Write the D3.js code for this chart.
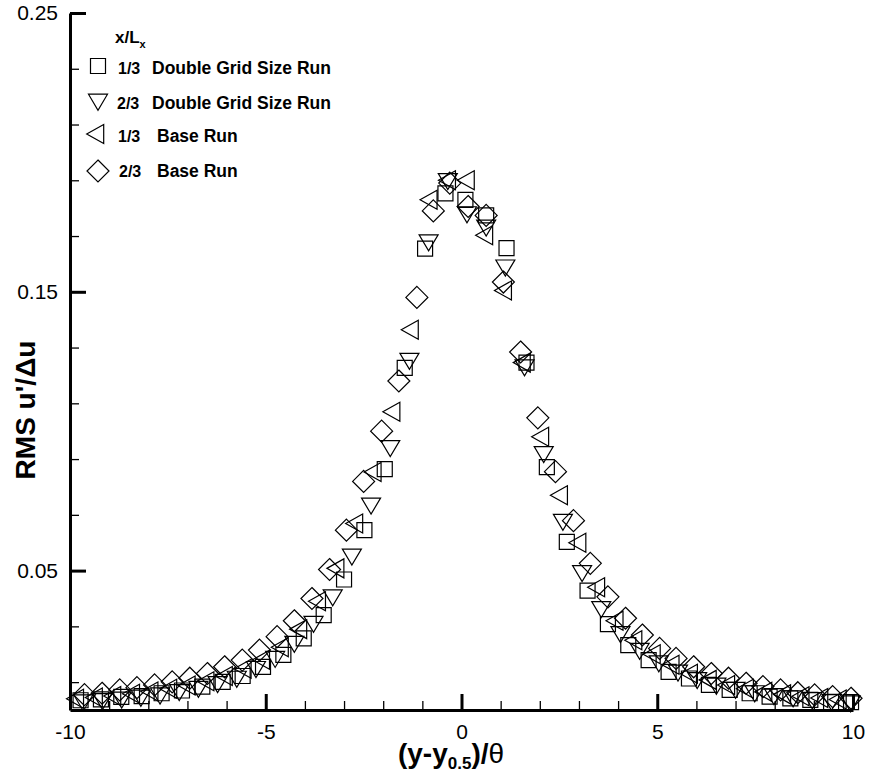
<!DOCTYPE html>
<html>
<head>
<meta charset="utf-8">
<script src="https://cdn.jsdelivr.net/npm/d3@7"></script>
<style>
  body { margin: 0; background: #fff; }
  svg text { font-family: "Liberation Sans", Arial, Helvetica, sans-serif; }
</style>
</head>
<body>
<div id="main"></div>
<script>
'use strict'

// series 1: x/Lx = 1/3, double grid size run (squares)
let sqX = [-9.73,-9.21,-8.69,-8.17,-7.66,-7.14,-6.62,-6.10,-5.59,-5.07,-4.55,-4.03,-3.52,-3.00,-2.48,-1.96,-1.45,-0.93,-0.41,0.10,0.63,1.15,1.66,2.18,2.69,3.22,3.74,4.26,4.78,5.29,5.81,6.32,6.85,7.36,7.87,8.40,8.91,9.44,9.95];
let sqY = [0.0035,0.0038,0.0047,0.0050,0.0060,0.0070,0.0084,0.0101,0.0122,0.0155,0.0198,0.0257,0.0340,0.0468,0.0645,0.0864,0.1227,0.1655,0.1853,0.1830,0.1774,0.1657,0.1246,0.0871,0.0603,0.0428,0.0308,0.0233,0.0179,0.0137,0.0113,0.0090,0.0072,0.0060,0.0048,0.0042,0.0036,0.0028,0.0028];

// series 2: x/Lx = 2/3, double grid size run (down triangles)
let dtX = [-9.66,-9.17,-8.68,-8.19,-7.70,-7.21,-6.72,-6.23,-5.74,-5.25,-4.76,-4.27,-3.78,-3.29,-2.80,-2.31,-1.82,-1.33,-0.84,-0.35,0.14,0.63,1.12,1.61,2.10,2.59,3.08,3.57,4.06,4.55,5.04,5.53,6.02,6.51,7.00,7.49,7.98,8.47,8.96,9.45,9.94];
let dtY = [0.0035,0.0040,0.0045,0.0052,0.0060,0.0072,0.0084,0.0101,0.0120,0.0155,0.0191,0.0245,0.0317,0.0412,0.0558,0.0741,0.0947,0.1260,0.1685,0.1905,0.1786,0.1738,0.1595,0.1237,0.0926,0.0683,0.0499,0.0370,0.0280,0.0220,0.0175,0.0142,0.0115,0.0095,0.0080,0.0068,0.0058,0.0050,0.0043,0.0037,0.0032];

// series 3: x/Lx = 1/3, base run (left triangles)
let ltX = [-9.80,-9.32,-8.85,-8.37,-7.90,-7.42,-6.95,-6.47,-6.00,-5.52,-5.05,-4.57,-4.10,-3.62,-3.15,-2.67,-2.20,-1.72,-1.25,-0.77,-0.30,0.18,0.65,1.13,1.61,2.08,2.56,3.03,3.51,3.98,4.46,4.93,5.41,5.88,6.36,6.83,7.31,7.78,8.26,8.73,9.21,9.68];
let ltY = [0.0040,0.0045,0.0050,0.0058,0.0066,0.0076,0.0088,0.0103,0.0122,0.0148,0.0180,0.0225,0.0290,0.0390,0.0508,0.0669,0.0854,0.1070,0.1364,0.1830,0.1900,0.1900,0.1703,0.1505,0.1246,0.0980,0.0770,0.0600,0.0440,0.0320,0.0250,0.0200,0.0162,0.0130,0.0108,0.0090,0.0076,0.0065,0.0056,0.0049,0.0043,0.0038];

// series 4: x/Lx = 2/3, base run (diamonds)
let dmX = [-9.63,-9.18,-8.73,-8.29,-7.84,-7.39,-6.94,-6.49,-6.05,-5.60,-5.16,-4.71,-4.27,-3.82,-3.37,-2.94,-2.50,-2.04,-1.60,-1.14,-0.72,-0.30,0.17,0.63,1.07,1.51,1.95,2.40,2.86,3.29,3.74,4.19,4.62,5.06,5.48,5.93,6.38,6.82,7.27,7.70,8.15,8.59,9.02,9.48,9.95];
let dmY = [0.0055,0.0060,0.0072,0.0080,0.0090,0.0101,0.0114,0.0131,0.0155,0.0179,0.0215,0.0263,0.0320,0.0400,0.0504,0.0645,0.0820,0.1000,0.1180,0.1480,0.1790,0.1890,0.1806,0.1774,0.1535,0.1284,0.1048,0.0855,0.0679,0.0526,0.0406,0.0329,0.0269,0.0221,0.0185,0.0155,0.0131,0.0114,0.0096,0.0084,0.0072,0.0062,0.0054,0.0048,0.0042];

let xMajor = [-10, -5, 0, 5, 10];
let xMinor = [-9,-8,-7,-6,-4,-3,-2,-1,1,2,3,4,6,7,8,9];
let yMajor = [0.05, 0.15, 0.25];
let yMinor = [0.01,0.03,0.07,0.09,0.11,0.13,0.17,0.19,0.21,0.23];

let legendFrac = ["1/3", "2/3", "1/3", "2/3"];
let legendName = ["Double Grid Size Run", "Double Grid Size Run", "Base Run", "Base Run"];

// marker shapes (hollow, centred on the data point)
let shapes = {
  square: "M-7.5,-7.5h15v15h-15Z",
  down: "M-9.5,-5.3L9.5,-5.3L0,10.7Z",
  left: "M-11.3,0L5.7,-9.5L5.7,9.5Z",
  diamond: "M0,-11L11,0L0,11L-11,0Z"
};

let series = [
  {x: sqX, y: sqY, shape: "square"},
  {x: dtX, y: dtY, shape: "down"},
  {x: ltX, y: ltY, shape: "left"},
  {x: dmX, y: dmY, shape: "diamond"}
];

let svgWidth = 870;
let svgHeight = 775;

let svg = d3.select('#main')
  .append('svg')
  .attr('width', svgWidth)
  .attr('height', svgHeight);

let xScale = d3.scaleLinear().domain([-10, 10]).range([70, 853]);
let yScale = d3.scaleLinear().domain([0, 0.25]).range([710, 13]);

//Draw the points
series.forEach(s => {
  svg.append("g")
    .selectAll("path")
    .data(s.x.map((v, i) => [v, s.y[i]]))
    .enter()
    .append("path")
    .attr("d", shapes[s.shape])
    .attr("transform", d => "translate(" + xScale(d[0]) + "," + yScale(d[1]) + ")")
    .attr("fill", "none")
    .attr("stroke", "#000")
    .attr("stroke-width", 1.2);
});

//Minor ticks
svg.append("g")
  .attr("transform", "translate(0,710)")
  .call(d3.axisBottom(xScale).tickValues(xMinor).tickSize(-9).tickFormat(""))
  .call(g => g.select(".domain").remove())
  .call(g => g.selectAll("line").attr("stroke-width", 1.3));

svg.append("g")
  .attr("transform", "translate(70,0)")
  .call(d3.axisLeft(yScale).tickValues(yMinor).tickSize(-9).tickFormat(""))
  .call(g => g.select(".domain").remove())
  .call(g => g.selectAll("line").attr("stroke-width", 1.3));

//Major ticks with labels (plain hyphen for minus, as in the original)
svg.append("g")
  .attr("transform", "translate(0,710)")
  .call(d3.axisBottom(xScale).tickValues(xMajor).tickSize(-16).tickSizeOuter(0).tickPadding(9).tickFormat(d => String(d)))
  .call(g => g.select(".domain").attr("stroke-width", 3))
  .call(g => g.selectAll("line").attr("stroke-width", 3))
  .call(g => g.selectAll("text").attr("font-size", "21px").attr("fill", "#000").attr("dy", "0.95em"));

svg.append("g")
  .attr("transform", "translate(70,0)")
  .call(d3.axisLeft(yScale).tickValues(yMajor).tickSize(-16).tickSizeOuter(0).tickPadding(12).tickFormat(d3.format(".2f")))
  .call(g => g.select(".domain").attr("stroke-width", 3))
  .call(g => g.selectAll("line").attr("stroke-width", 3))
  .call(g => g.selectAll("text").attr("font-size", "21px").attr("fill", "#000"));

//Axis titles
let xt = svg.append("text")
  .attr("x", 451)
  .attr("y", 763)
  .attr("text-anchor", "middle")
  .attr("font-size", "28px")
  .attr("font-weight", "bold");
xt.append("tspan").text("(y-y");
xt.append("tspan").attr("font-size", "17px").attr("dy", "6").text("0.5");
xt.append("tspan").attr("dy", "-6").text(")/");
xt.append("tspan").attr("font-weight", "normal").text("θ");

svg.append("text")
  .attr("transform", "translate(35,410) rotate(-90)")
  .attr("text-anchor", "middle")
  .attr("font-size", "28px")
  .attr("font-weight", "bold")
  .text("RMS u'/Δu");

//Legend
let lt = svg.append("text")
  .attr("x", 115)
  .attr("y", 43)
  .attr("font-size", "17px")
  .attr("font-weight", "bold");
lt.append("tspan").text("x/L");
lt.append("tspan").attr("font-size", "11px").attr("dy", "5").text("x");

let legendTextY = [74, 109, 142, 177];
let legendFracX = [118, 117, 118, 119];
let legendNameX = [152, 152, 157, 157];
let legendSymY = [66, 99.5, 134, 171];

series.forEach((s, i) => {
  svg.append("path")
    .attr("d", shapes[s.shape])
    .attr("transform", "translate(98," + legendSymY[i] + ")")
    .attr("fill", "none")
    .attr("stroke", "#000")
    .attr("stroke-width", 1.2);
  svg.append("text")
    .attr("x", legendFracX[i])
    .attr("y", legendTextY[i])
    .attr("font-size", "16px")
    .attr("font-weight", "bold")
    .text(legendFrac[i]);
  svg.append("text")
    .attr("x", legendNameX[i])
    .attr("y", legendTextY[i])
    .attr("font-size", "17.5px")
    .attr("font-weight", "bold")
    .text(legendName[i]);
});
</script>
</body>
</html>
